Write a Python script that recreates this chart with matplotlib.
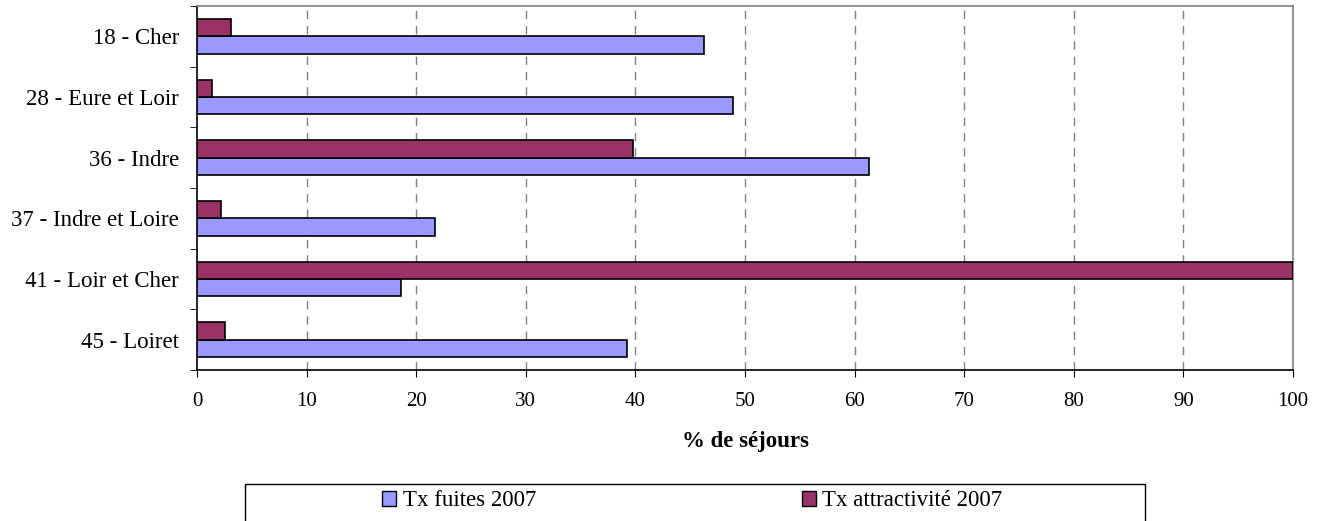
import numpy as np
import matplotlib
matplotlib.use("Agg")
import matplotlib.pyplot as plt
from matplotlib.patches import Rectangle, Patch

# data
departements = ['18 - Cher', '28 - Eure et Loir', '36 - Indre',
                '37 - Indre et Loire', '41 - Loir et Cher', '45 - Loiret']
tx_fuites = [46.3, 48.9, 61.3, 21.7, 18.6, 39.2]
tx_attractivite = [3.1, 1.4, 39.8, 2.2, 100.0, 2.6]
x_ticks = list(range(0, 101, 10))

plt.rcParams['font.family'] = ['Liberation Serif', 'DejaVu Serif']

fig = plt.figure(figsize=(13.21, 5.21), dpi=100)
ax = fig.add_axes([197 / 1321, 1 - 370 / 521, (1293 - 197) / 1321, (370 - 6) / 521])

y = np.arange(len(departements))
h = 0.2857
ax.barh(y + h / 2, tx_fuites, height=h, color='#9999ff', edgecolor='black', linewidth=1.2,
        label='Tx fuites 2007', zorder=3)
ax.barh(y - h / 2, tx_attractivite, height=h, color='#993366', edgecolor='black', linewidth=1.2,
        label='Tx attractivité 2007', zorder=3)

ax.set_xlim(0, 100)
ax.set_ylim(len(departements) - 0.5, -0.5)
ax.set_xticks(x_ticks)
ax.set_xticklabels([str(t) for t in x_ticks], fontsize=15)
ax.set_yticks(y)
ax.set_yticklabels(departements, fontsize=16.5)
ax.set_yticks(np.arange(-0.5, len(departements)), minor=True)
ax.tick_params(axis='y', which='major', length=0, pad=13)
ax.tick_params(axis='y', which='minor', length=5, direction='out', color='black')
ax.tick_params(axis='x', which='major', length=5, direction='out', pad=11, color='black')

for t in x_ticks[1:-1]:
    ax.axvline(t, color='#808080', linestyle=(0, (6, 5)), linewidth=1, zorder=1)

for s in ['top', 'right']:
    ax.spines[s].set_color('#808080')
    ax.spines[s].set_linewidth(1.2)
for s in ['left', 'bottom']:
    ax.spines[s].set_color('black')
    ax.spines[s].set_linewidth(1.2)

ax.set_xlabel('% de séjours', fontsize=16.5, fontweight='bold', labelpad=14)

# legend box
fig.patches.append(Rectangle((245 / 1321, -0.02), (1145 - 245) / 1321, (521 - 484) / 521 + 0.02,
                             transform=fig.transFigure, facecolor='white',
                             edgecolor='black', linewidth=1))
handles = [Patch(facecolor='#9999ff', edgecolor='black'),
           Patch(facecolor='#993366', edgecolor='black')]
fig.legend(handles, ['Tx fuites 2007', 'Tx attractivité 2007'], ncol=2,
           loc='center left', bbox_to_anchor=(382 / 1321, 1 - 501 / 521),
           frameon=False, fontsize=16.5, handlelength=0.6, handleheight=0.6,
           handletextpad=0.3, columnspacing=11.6, borderaxespad=0, borderpad=0)

fig.savefig('out.png', dpi=100)
